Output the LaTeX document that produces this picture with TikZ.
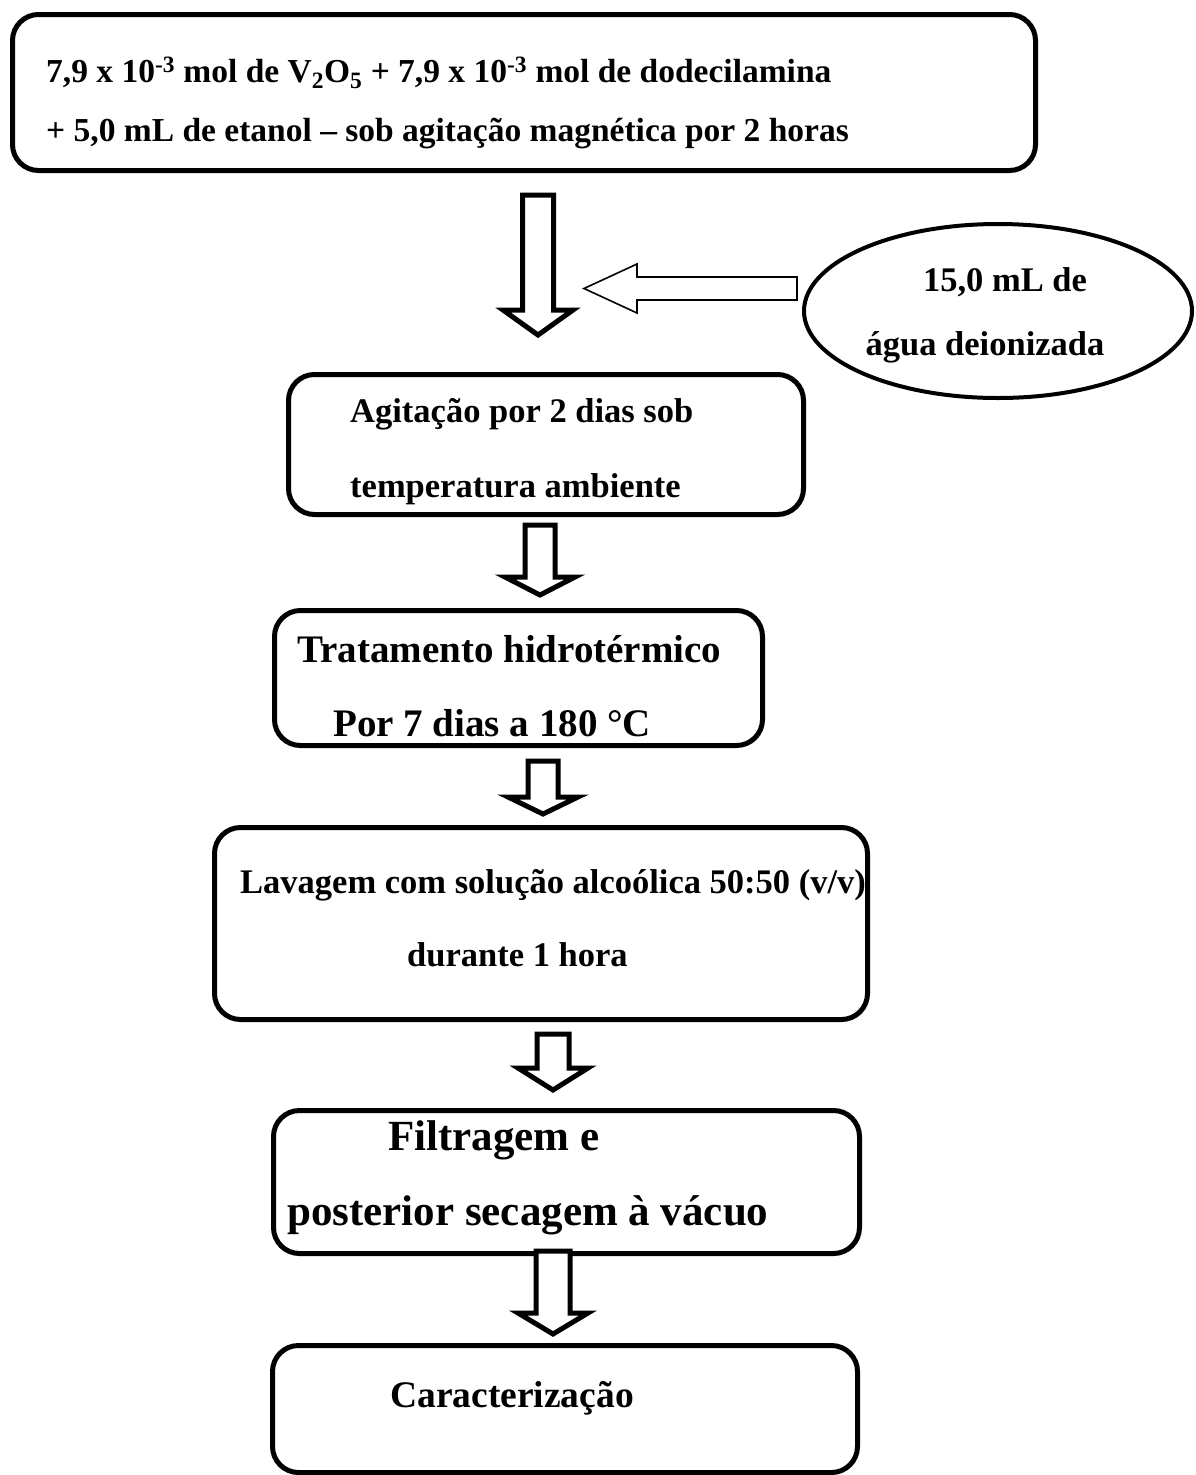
\documentclass[tikz,border=0pt]{standalone}
\usepackage{fontspec}
\setmainfont{Liberation Serif}
\begin{document}
\begin{tikzpicture}[x=1pt,y=-1pt,
  box/.style={draw, line width=5pt, rounded corners=26pt, anchor=north west, inner sep=0pt},
  oval/.style={draw, line width=4pt},
  blockarrow/.style={draw, line width=5pt, line join=miter, miter limit=10, fill=white},
  thinarrow/.style={draw, line width=1.6pt, line join=miter, miter limit=10, fill=white},
  lbl/.style={anchor=base west, inner sep=0pt},
  fA/.style={font=\fontsize{33.5}{40}\selectfont\bfseries},
  fD/.style={font=\fontsize{34.5}{40}\selectfont\bfseries},
  fB/.style={font=\fontsize{39}{46}\selectfont\bfseries},
  fE/.style={font=\fontsize{37.5}{44}\selectfont\bfseries},
  fC/.style={font=\fontsize{43}{50}\selectfont\bfseries}]
\useasboundingbox (0,0) rectangle (1195,1475);

% process boxes
\node[box, minimum width=1023pt, minimum height=156pt] (b1) at (10,12) {};
\node[box, minimum width=515pt, minimum height=140pt] (b2) at (286,372) {};
\node[box, minimum width=488pt, minimum height=135pt] (b3) at (272,608) {};
\node[box, minimum width=653pt, minimum height=192pt] (b4) at (212,825) {};
\node[box, minimum width=586pt, minimum height=143pt] (b5) at (271,1108) {};
\node[box, minimum width=585pt, minimum height=127pt] (b6) at (270,1343) {};

% water input
\draw[oval] (998,311) ellipse [x radius=194, y radius=87];
\coordinate (ov) at (998,311);

% box texts
\node[lbl, fA] (t1a) at (46,82) {7,9 x 10\textsuperscript{-3} mol de V\textsubscript{2}O\textsubscript{5} + 7,9 x 10\textsuperscript{-3} mol de dodecilamina};
\node[lbl, fA] (t1b) at (46,141) {+ 5,0 mL de etanol – sob agitação magnética por 2 horas};
\node[lbl, fD] (t2a) at (350,422) {Agitação por 2 dias sob};
\node[lbl, fD] (t2b) at (350,497) {temperatura ambiente};
\node[lbl, fB] (t3a) at (297,662) {Tratamento hidrotérmico};
\node[lbl, fB] (t3b) at (333,736) {Por 7 dias a 180 °C};
\node[lbl, fD] (t4a) at (240,893) {Lavagem com solução alcoólica 50:50 (v/v)};
\node[lbl, fD] (t4b) at (407,966) {durante 1 hora};
\node[lbl, fC] (t5a) at (388,1150) {Filtragem e};
\node[lbl, fC] (t5b) at (287,1225) {posterior secagem à vácuo};
\node[lbl, fE] (t6) at (390,1407) {Caracterização};
\node[anchor=base, inner sep=0pt, fD] (w1) at (1005,291) {15,0 mL de};
\node[anchor=base, inner sep=0pt, fD] (w2) at (985,355) {água deionizada};

% hollow block arrows between the steps
\newcommand{\blockdown}[5]{% cx, top, head base, tip, shaft half width
  \draw[blockarrow] (#1-#5,#2) -- (#1+#5,#2) -- (#1+#5,#3) -- (#1+35,#3)
    -- (#1,#4) -- (#1-35,#3) -- (#1-#5,#3) -- cycle;}
\blockdown{538}{195}{310}{335}{15.5}
\blockdown{540}{525}{577}{595}{15}
\blockdown{543}{761}{797}{814}{15}
\blockdown{553}{1034}{1068}{1090}{16}
\blockdown{553}{1251}{1313}{1334}{17}

% side arrow from the water input
\draw[thinarrow] (797,277) -- (637,277) -- (637,264) -- (584,288.5)
  -- (637,313) -- (637,300) -- (797,300) -- cycle;
\end{tikzpicture}
\end{document}
